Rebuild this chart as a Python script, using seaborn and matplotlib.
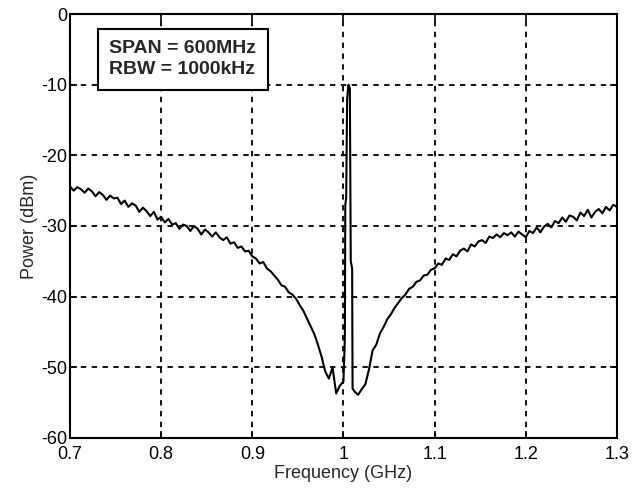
import matplotlib
matplotlib.use('Agg')
import matplotlib.pyplot as plt
import numpy as np
import pandas as pd
import seaborn as sns

# Spectrum (frequency in MHz, power in dBm)
left_mhz = list(range(700, 1000, 4))
left_power = [
    -24.4, -25.0, -24.5, -24.8, -25.3, -24.7, -25.1, -25.8, -25.2, -25.6,
    -26.3, -25.7, -26.1, -26.0, -26.9, -26.4, -27.3, -26.8, -27.1, -28.0,
    -27.4, -27.9, -28.6, -28.0, -29.1,
    -28.7, -29.5, -29.0, -29.8, -29.6, -30.4, -29.8, -30.0, -30.7, -30.0,
    -30.4, -31.2, -30.5, -30.9, -31.5, -30.9, -31.6, -32.0, -31.6, -32.5,
    -32.3, -33.1, -32.9, -33.6, -33.5,
    -34.3, -34.6, -35.3, -35.1, -36.0, -36.4, -37.0, -37.6, -38.4, -38.6,
    -39.4, -39.7, -40.3, -41.2, -42.0, -43.1, -44.2, -45.3, -46.8, -48.5,
    -50.6, -51.6, -50.0, -53.7, -52.6,
]
spike_mhz = [1000, 1001.5, 1002, 1003, 1004, 1005.5, 1007, 1008, 1009.5, 1010]
spike_power = [-52.0, -46.0, -27.0, -26.0, -12.0, -10.0, -10.5, -35.0, -36.0, -53.0]
right_mhz = list(range(1012, 1301, 4))
right_power = [
    -53.4, -53.9, -53.1, -52.4, -50.3, -47.6, -46.8, -45.2, -44.3, -43.2,
    -42.5, -41.6, -40.9, -40.2, -39.7, -38.9, -38.6, -37.9, -37.7, -37.0,
    -36.9, -36.2,
    -36.0, -35.3, -35.5, -34.6, -34.8, -34.0, -34.3, -33.5, -33.2, -33.6,
    -32.6, -32.9, -32.2, -32.0, -32.4, -31.5, -31.7, -31.2, -31.6, -31.0,
    -31.3, -30.9, -31.5, -30.8, -31.2,
    -31.6, -30.7, -31.0, -30.2, -30.9, -30.1, -29.7, -30.2, -29.3, -29.6,
    -28.8, -29.4, -28.5, -28.7, -29.2, -28.1, -28.6, -27.7, -28.8, -28.0,
    -27.6, -28.2, -27.3, -27.8, -27.0, -27.3,
]

freq_ghz = np.array(left_mhz + spike_mhz + right_mhz) / 1000.0
power = left_power + spike_power + right_power
df = pd.DataFrame({'freq': freq_ghz, 'power': power})

sns.set_style('ticks')
plt.rcParams['font.family'] = ['Liberation Sans', 'DejaVu Sans']
plt.rcParams['axes.unicode_minus'] = False

fig = plt.figure(figsize=(6.33, 4.93), dpi=100)
ax = fig.add_axes([0.1106, 0.1116, 0.864, 0.86])

sns.lineplot(data=df, x='freq', y='power', color='black', linewidth=1.5,
             sort=False, estimator=None, ax=ax)

ax.set_xlim(0.7, 1.3)
ax.set_ylim(-60, 0)
ax.set_xticks([0.7, 0.8, 0.9, 1.0, 1.1, 1.2, 1.3])
ax.set_xticklabels(['0.7', '0.8', '0.9', '1', '1.1', '1.2', '1.3'])
ax.set_yticks([-60, -50, -40, -30, -20, -10, 0])
ax.grid(True, color='black', linestyle=(0, (3, 3)), linewidth=1.3)
for side in ['top', 'right', 'left', 'bottom']:
    ax.spines[side].set_visible(True)
    ax.spines[side].set_linewidth(1.5)
    ax.spines[side].set_color('black')
ax.tick_params(direction='in', length=5, width=1.2, labelsize=13,
               colors='black', top=True, right=True)
ax.tick_params(axis='x', pad=6)
ax.tick_params(axis='y', pad=2)
ax.set_xlabel('Frequency (GHz)', fontsize=13, labelpad=1)
ax.set_ylabel('Power (dBm)', fontsize=13, labelpad=2)

ax.text(0.072, 0.938, 'SPAN = 600MHz\nRBW = 1000kHz', transform=ax.transAxes,
        fontsize=14, fontweight='bold', va='top', ha='left', linespacing=1.3,
        bbox=dict(boxstyle='square,pad=0.6', facecolor='white',
                  edgecolor='black', linewidth=1.5))

fig.savefig('out.png', dpi=100)
